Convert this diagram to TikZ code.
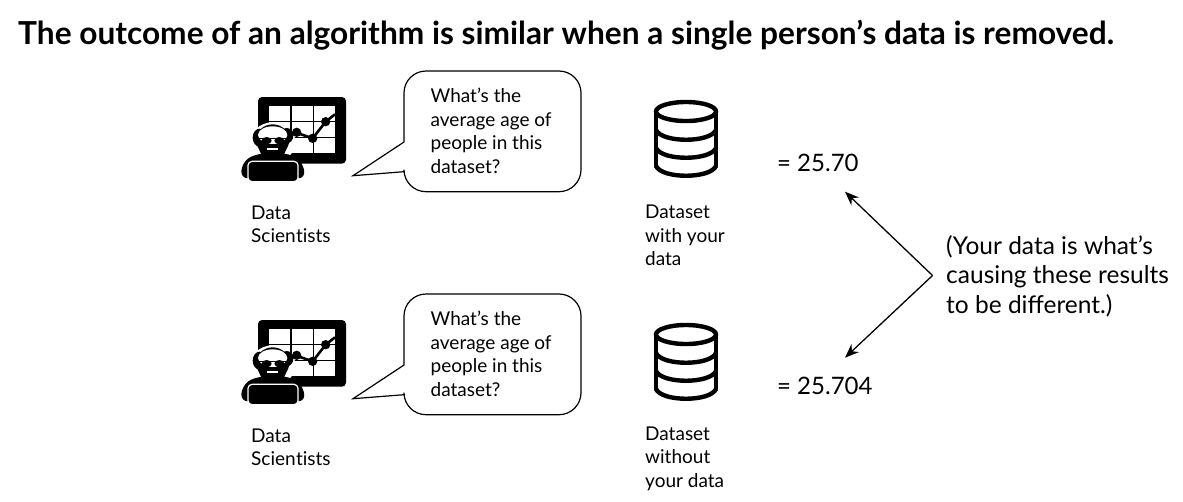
\documentclass[tikz,border=0pt]{standalone}
\usepackage{fontspec}
\setmainfont{Lato}
\usetikzlibrary{arrows.meta}
\tikzset{
  labeltext/.style={anchor=west,inner sep=0pt,align=left,text=black,font=\fontsize{19}{23.6}\selectfont},
  resulttext/.style={anchor=west,inner sep=0pt,font=\fontsize{24}{29}\selectfont},
  notetext/.style={anchor=west,inner sep=0pt,align=left,font=\fontsize{24.5}{29.5}\selectfont},
  titletext/.style={anchor=west,inner sep=0pt,font=\fontsize{31.65}{36}\selectfont\bfseries},
  bubble/.style={draw=black,line width=1.2pt,fill=white,line join=miter},
  dbline/.style={draw=black,line width=4.4pt},
  pointer/.style={draw=black,line width=1.3pt,-{Stealth[length=14pt,width=11pt]}},
}
\newcommand{\scientist}[1]{%
\begin{scope}[shift={(230,85+#1)},scale=1/3]
  \fill[black,rounded corners=4pt] (84,36) rectangle (348,236);
  \fill[white] (118,62) rectangle (315,205);
  \draw[black,line width=1.1pt] (183,62)--(183,205) (250,62)--(250,205) (118,110)--(315,110) (118,158)--(315,158);
  \draw[black,line width=2.6pt] (190,140)--(248,160)--(287,110)--(315,88);
  \fill[white] (128,172) ellipse (68 and 60);
  \fill[black] (200,142) circle (14) (248,160) circle (14) (287,110) circle (14);
  \fill[black,rounded corners=8pt] (30,280)--(40,226)--(85,205)--(175,205)--(215,226)--(228,280)--cycle;
  % hair and skull outline
  \fill[black] (89,158) ellipse (21 and 27) (170,152) ellipse (20 and 23);
  \fill[black] (128,165) ellipse (50 and 47);
  \fill[white] (128,150) ellipse (44 and 26);
  % beard
  \fill[black] (83,170)..controls (86,245) and (170,245)..(173,170)--cycle;
  \fill[white] (112,189) rectangle (145,195);
  % glasses
  \fill[white] (108,160) rectangle (150,176);
  \fill[black] (110,167) ellipse (15 and 11) (148,167) ellipse (15 and 11);
  \draw[black,line width=1pt] (84,161)--(174,161);
  % laptop
  \fill[black,rounded corners=4pt,draw=white,line width=1.2pt] (54,229) rectangle (204,290);
\end{scope}}
\newcommand{\database}[1]{%
\begin{scope}[yshift=-#1pt]
  \draw[dbline] (686,111.5) ellipse (30 and 9.5);
  \draw[dbline,line cap=round] (656,111.5)--(656,166);
  \draw[dbline,line cap=round] (716,111.5)--(716,166);
  \draw[dbline] (656,130)..controls (662,143) and (710,143)..(716,130);
  \draw[dbline] (656,148)..controls (662,161) and (710,161)..(716,148);
  \draw[dbline] (656,166)..controls (662,179) and (710,179)..(716,166);
\end{scope}}
\newcommand{\bubbleshape}[1]{%
\begin{scope}[yshift=-#1pt]
  \draw[bubble] (404,142)--(353,175.7)--(404,171.7)
    {[rounded corners=22pt] --(404,191.7)--(581,191.7)--(581,71)--(404,71)--(404,142)}--cycle;
\end{scope}}
\newcommand{\sciword}{Scien\kern0.3pt t\kern0pt i\kern0pt s\kern0pt t\kern0pt s}
\begin{document}
\begin{tikzpicture}[x=1pt,y=-1pt]
\useasboundingbox (0,0) rectangle (1183,501);
\fill[white] (0,0) rectangle (1183,501);
\node[titletext] (title) at (18,35) {The outcome of an algorithm is similar when a single person’s data is removed.};
\scientist{0}
\scientist{223}
\bubbleshape{0}
\bubbleshape{223}
\database{0}
\database{223}
\node[labeltext] (q1) at (430.5,131) {What’s the\\average age of\\people in this\\dataset?};
\node[labeltext] (q2) at (430.5,354) {What’s the\\average age of\\people in this\\dataset?};
\node[labeltext] (ds1) at (251,224.4) {Data\\\sciword};
\node[labeltext] (ds2) at (251,447.4) {Data\\\sciword};
\node[labeltext] (d1) at (645,235.6) {Dataset\\with your\\data};
\node[labeltext] (d2) at (645,458.6) {Dataset\\without\\your data};
\node[resulttext] (r1) at (777,163) {= 25.70};
\node[resulttext] (r2) at (777,386) {= 25.704};
\node[notetext] (note) at (946,276) {(Your data is what’s\\causing these results\\to be different.)};
\coordinate (vertex) at (932.5,275.5);
\coordinate (up) at (845,191.7);
\coordinate (down) at (845,357.7);
\draw[pointer] (vertex)--(up);
\draw[pointer] (vertex)--(down);
\end{tikzpicture}
\end{document}
